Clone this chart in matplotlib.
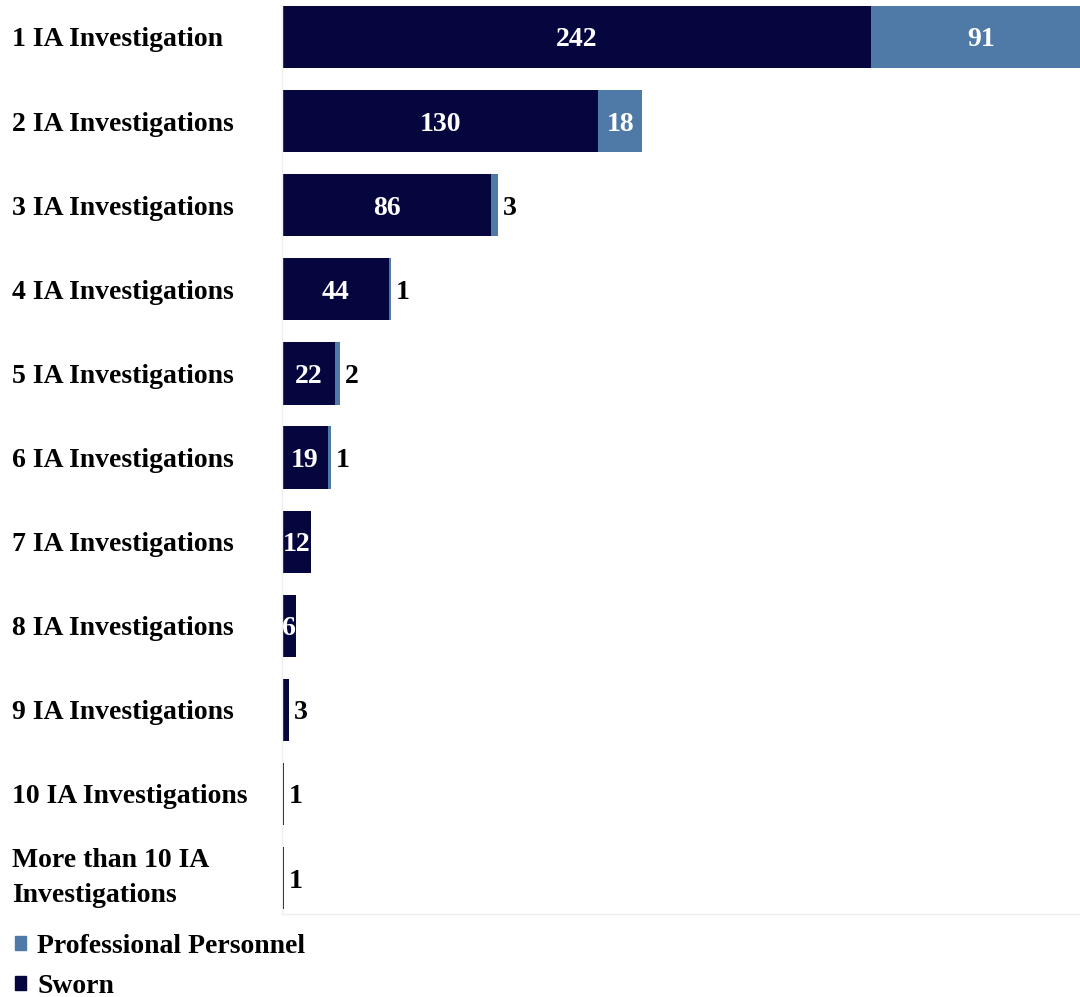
import matplotlib.pyplot as plt
from matplotlib.patches import Patch

categories = ["1 IA Investigation", "2 IA Investigations", "3 IA Investigations",
              "4 IA Investigations", "5 IA Investigations", "6 IA Investigations",
              "7 IA Investigations", "8 IA Investigations", "9 IA Investigations",
              "10 IA Investigations", "More than 10 IA\nInvestigations"]
sworn = [242, 130, 86, 44, 22, 19, 12, 6, 3, 1, 1]
professional = [91, 18, 3, 1, 2, 1, 0, 0, 0, 0, 0]

SWORN_COLOR = "#06063f"
PROF_COLOR = "#4f79a7"

plt.rcParams["font.family"] = ["Liberation Serif", "DejaVu Serif"]
plt.rcParams["font.weight"] = "bold"
fs = 20

fig = plt.figure(figsize=(10.8, 9.97), dpi=100)
ax = fig.add_axes([0.261, 0.083, 0.739, 0.912])

y = list(range(len(categories)))
ax.barh(y, sworn, height=0.74, color=SWORN_COLOR)
ax.barh(y, professional, left=sworn, height=0.74, color=PROF_COLOR)

# value labels: white inside the wide segments, black past the bar end otherwise
for i, (s, p) in enumerate(zip(sworn, professional)):
    if s >= 6:
        ax.text(s / 2, i, str(s), ha="center", va="center_baseline", color="white",
                fontsize=fs, fontweight="bold")
    else:
        ax.text(s + p + 2, i, str(s), ha="left", va="center_baseline", color="black",
                fontsize=fs, fontweight="bold")
    if p >= 10:
        ax.text(s + p / 2, i, str(p), ha="center", va="center_baseline", color="white",
                fontsize=fs, fontweight="bold")
    elif p > 0:
        ax.text(s + p + 2, i, str(p), ha="left", va="center_baseline", color="black",
                fontsize=fs, fontweight="bold")

ax.set_xlim(0, 328)
ax.set_ylim(10.43, -0.38)
ax.set_yticks(y)
ax.set_yticklabels(categories, fontsize=fs, fontweight="bold", ha="left",
                   linespacing=1.55)
ax.get_yticklabels()[-1].set_va("center")
ax.tick_params(axis="y", length=0, pad=194)
ax.set_xticks([])
for side in ["top", "right"]:
    ax.spines[side].set_visible(False)
for side in ["left", "bottom"]:
    ax.spines[side].set_color("#efefef")
    ax.spines[side].set_linewidth(1)

handles = [Patch(color=PROF_COLOR, label="Professional Personnel"),
           Patch(color=SWORN_COLOR, label="Sworn")]
fig.legend(handles=handles, loc="upper left", bbox_to_anchor=(0.009, 0.069),
           frameon=False, fontsize=fs, handlelength=0.38, handleheight=0.38,
           handletextpad=0.41, labelspacing=0.55, borderaxespad=0, borderpad=0.2)

fig.savefig("out.png", dpi=100)
